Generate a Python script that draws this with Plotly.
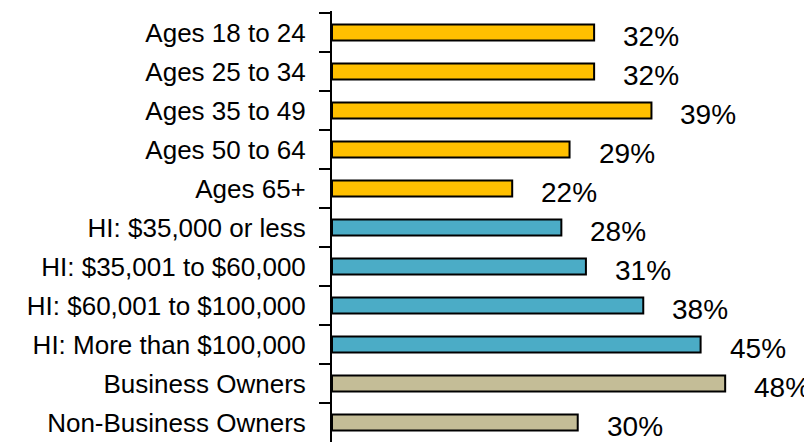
import plotly.graph_objects as go

categories = [
    "Ages 18 to 24", "Ages 25 to 34", "Ages 35 to 49", "Ages 50 to 64", "Ages 65+",
    "HI: $35,000 or less", "HI: $35,001 to $60,000", "HI: $60,001 to $100,000",
    "HI: More than $100,000", "Business Owners", "Non-Business Owners",
]
values = [32, 32, 39, 29, 22, 28, 31, 38, 45, 48, 30]
groups = ["age"] * 5 + ["income"] * 4 + ["owner"] * 2
group_colors = {"age": "#FFC000", "income": "#4BACC6", "owner": "#C4BD97"}

colors = [group_colors[g] for g in groups]

fig = go.Figure(
    go.Bar(
        x=values,
        y=categories,
        orientation="h",
        marker=dict(color=colors, line=dict(color="black", width=2)),
        hoverinfo="skip",
    )
)

for cat, v in zip(categories, values):
    fig.add_annotation(
        x=v, y=cat, text=f"{v}%", showarrow=False,
        xanchor="left", yanchor="middle", xshift=27, yshift=-4,
        font=dict(family="Liberation Sans, Arial, sans-serif", size=28, color="black"),
    )

# page body has an 8px default margin, so the figure is sized to fit the window
fig.update_layout(
    width=804, height=436,
    margin=dict(l=324, r=0, t=3, b=2, autoexpand=False),
    paper_bgcolor="white", plot_bgcolor="white",
    bargap=0.59,
    showlegend=False,
    font=dict(family="Liberation Sans, Arial, sans-serif", color="black"),
)
fig.update_xaxes(range=[0, 58.6], visible=False, fixedrange=True, automargin=False)
fig.update_yaxes(
    categoryorder="array", categoryarray=categories, autorange="reversed",
    showline=True, linecolor="black", linewidth=2,
    ticks="outside", ticklen=11, tickwidth=2, tickcolor="black",
    tickson="boundaries", ticklabelstandoff=19,
    showgrid=False, zeroline=False, automargin=False,
    tickfont=dict(size=26, color="black", family="Liberation Sans, Arial, sans-serif"),
    fixedrange=True,
)

fig.write_html("out.html")
